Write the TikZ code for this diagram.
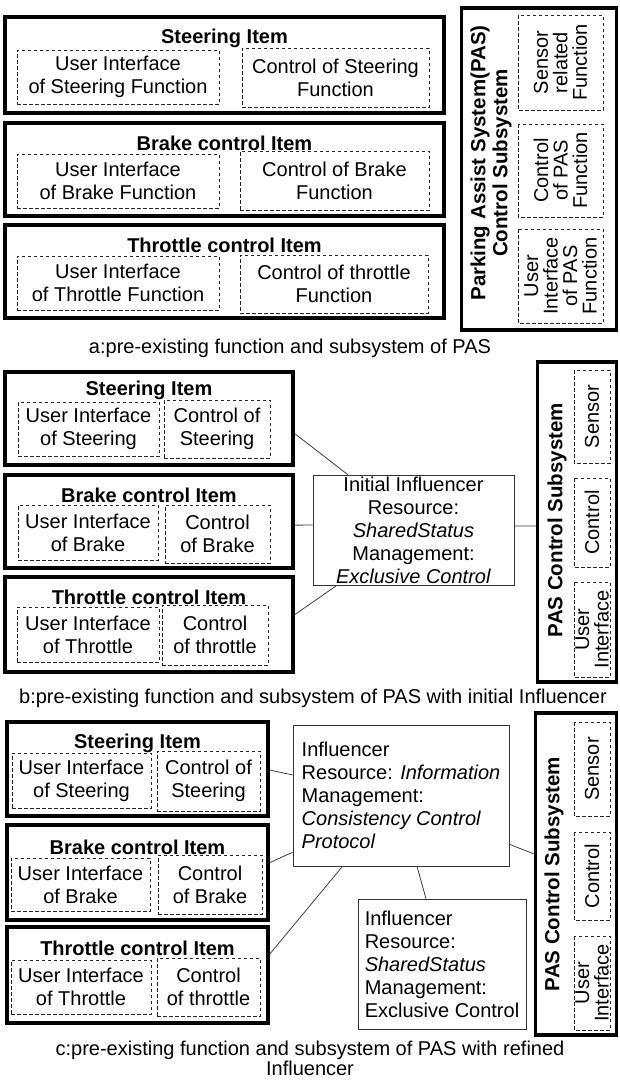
\documentclass[tikz,border=0pt]{standalone}
\usepackage{fontspec}
\setmainfont{Liberation Sans}
\usetikzlibrary{calc}
\newcommand\fs{\fontsize{20}{23}\selectfont}
\newcommand\fsr{\fontsize{20}{19.5}\selectfont}
\tikzset{
  itembox/.style={draw=black, line width=3.4pt, inner sep=0pt},
  dbox/.style={draw=black!85, line width=0.8pt, dash pattern=on 3.5pt off 2.5pt, inner sep=0pt, font=\fs, align=center},
  rbox/.style={dbox, rotate=90, font=\fsr},
  ttl/.style={font=\fs\bfseries, inner sep=0pt},
  rttl/.style={font=\fontsize{20.5}{22}\selectfont\bfseries, rotate=90, align=center, inner sep=0pt},
  infl/.style={draw=black!80, line width=0.9pt, inner sep=0pt, font=\fs},
  conn/.style={draw=black!75, line width=0.8pt},
  captxt/.style={font=\fs, align=center, inner sep=0pt},
}
\begin{document}
\begin{tikzpicture}[x=1pt,y=-1pt]
\useasboundingbox (0,0) rectangle (619,1082);
% ---------------- a ----------------
\node[itembox, minimum width=439pt, minimum height=96pt] (sA) at (224.5,65) {};
\node[ttl] (sAt) at (224.5,38) {Steering Item};
\node[dbox, minimum width=202pt, minimum height=54pt] (sAu) at (118,77) {User Interface\\of Steering Function};
\node[dbox, minimum width=187pt, minimum height=59pt] (sAc) at (335.5,77.5) {Control of Steering\\Function};
\node[itembox, minimum width=439pt, minimum height=93pt] (bA) at (224.5,169.5) {};
\node[ttl] (bAt) at (224.5,143) {Brake control Item};
\node[dbox, minimum width=202pt, minimum height=54pt] (bAu) at (118,181) {User Interface\\of Brake Function};
\node[dbox, minimum width=189pt, minimum height=59pt] (bAc) at (334.5,180.5) {Control of Brake\\Function};
\node[itembox, minimum width=439pt, minimum height=93pt] (tA) at (224.5,271.5) {};
\node[ttl] (tAt) at (224.5,245) {Throttle control Item};
\node[dbox, minimum width=202pt, minimum height=54pt] (tAu) at (118,283) {User Interface\\of Throttle Function};
\node[dbox, minimum width=188pt, minimum height=58pt] (tAc) at (334,284) {Control of throttle\\Function};
\node[itembox, minimum width=155pt, minimum height=322pt] (pA) at (539,169) {};
\node[rttl] (pAt) at (491,163) {Parking Assist System(PAS)\\Control Subsystem};
\node[rbox, minimum width=95pt, minimum height=85pt] (pAs) at (560.5,62.5) {Sensor\\related\\Function};
\node[rbox, minimum width=93pt, minimum height=85pt] (pAc) at (560.5,170.5) {Control\\of PAS\\Function};
\node[rbox, minimum width=94pt, minimum height=85pt] (pAu) at (560.5,276) {User\\Interface\\of PAS\\Function};
\node[captxt] (capA) at (290,348) {a:pre-existing function and subsystem of PAS};
% ---------------- b ----------------
\node[itembox, minimum width=288pt, minimum height=93pt] (sB) at (149,418.5) {};
\node[ttl] (sBt) at (149,390) {Steering Item};
\node[dbox, minimum width=141pt, minimum height=54pt] (sBu) at (88.5,429) {User Interface\\of Steering};
\node[dbox, minimum width=106pt, minimum height=58pt] (sBc) at (217,429) {Control of\\Steering};
\node[itembox, minimum width=288pt, minimum height=93pt] (bB) at (149,521.5) {};
\node[ttl] (bBt) at (149,495) {Brake control Item};
\node[dbox, minimum width=140pt, minimum height=55pt] (bBu) at (88,532.5) {User Interface\\of Brake};
\node[dbox, minimum width=105pt, minimum height=58pt] (bBc) at (217.5,534) {Control\\of Brake};
\node[itembox, minimum width=288pt, minimum height=95pt] (tB) at (149,624.5) {};
\node[ttl] (tBt) at (149,597) {Throttle control Item};
\node[dbox, minimum width=142pt, minimum height=55pt] (tBu) at (88,634.5) {User Interface\\of Throttle};
\node[dbox, minimum width=106pt, minimum height=60pt] (tBc) at (215,635) {Control\\of throttle};
\node[infl, minimum width=201pt, minimum height=110pt, align=center] (iB) at (413.5,530)
  {Initial Influencer\\Resource:\\\textit{SharedStatus}\\Management:\\\textit{Exclusive Control}};
\node[itembox, minimum width=79pt, minimum height=320pt] (pB) at (577,522) {};
\node[rttl] (pBt) at (557,520) {PAS Control Subsystem};
\node[rbox, minimum width=93pt, minimum height=36pt] (pBs) at (592,416.5) {Sensor};
\node[rbox, minimum width=89pt, minimum height=36pt] (pBc) at (592,522.5) {Control};
\node[rbox, minimum width=95pt, minimum height=36pt] (pBu) at (592,629.5) {User\\Interface};
\draw[conn] ($(sB.north east)!0.656!(sB.south east)$) -- ($(iB.north west)!0.174!(iB.north east)$);
\draw[conn] ($(bB.north east)!0.538!(bB.south east)$) -- ($(iB.north west)!0.455!(iB.south west)$);
\draw[conn] ($(tB.north east)!0.4!(tB.south east)$) -- ($(iB.south west)!0.12!(iB.south east)$);
\draw[conn] ($(iB.north east)!0.464!(iB.south east)$) -- ($(pB.north west)!0.5125!(pB.south west)$);
\node[captxt] (capB) at (313,698) {b:pre-existing function and subsystem of PAS with initial Influencer};
% ---------------- c ----------------
\node[itembox, minimum width=261pt, minimum height=94pt] (sC) at (137.5,769) {};
\node[ttl] (sCt) at (137.5,743) {Steering Item};
\node[dbox, minimum width=139pt, minimum height=55pt] (sCu) at (81.5,780.5) {User Interface\\of Steering};
\node[dbox, minimum width=103pt, minimum height=60pt] (sCc) at (208.5,781) {Control of\\Steering};
\node[itembox, minimum width=261pt, minimum height=95pt] (bC) at (137.5,872.5) {};
\node[ttl] (bCt) at (137.5,847) {Brake control Item};
\node[dbox, minimum width=139pt, minimum height=53pt] (bCu) at (80.5,884.5) {User Interface\\of Brake};
\node[dbox, minimum width=104pt, minimum height=59pt] (bCc) at (210,884.5) {Control\\of Brake};
\node[itembox, minimum width=261pt, minimum height=96pt] (tC) at (137.5,975) {};
\node[ttl] (tCt) at (137.5,948) {Throttle control Item};
\node[dbox, minimum width=140pt, minimum height=54pt] (tCu) at (81,987) {User Interface\\of Throttle};
\node[dbox, minimum width=103pt, minimum height=58pt] (tCc) at (208.5,987) {Control\\of throttle};
\node[infl, minimum width=216pt, minimum height=141pt, align=left] (iC1) at (401,795.5)
  {Influencer\\Resource: \textit{Information}\\Management:\\\textit{Consistency Control}\\\textit{Protocol}};
\node[infl, minimum width=168pt, minimum height=130pt, align=left] (iC2) at (442,964)
  {Influencer\\Resource:\\\textit{SharedStatus}\\Management:\\Exclusive Control};
\node[itembox, minimum width=81pt, minimum height=322pt] (pC) at (576,874) {};
\node[rttl] (pCt) at (554,874) {PAS Control Subsystem};
\node[rbox, minimum width=94pt, minimum height=36pt] (pCs) at (592,769) {Sensor};
\node[rbox, minimum width=88pt, minimum height=36pt] (pCc) at (592,876) {Control};
\node[rbox, minimum width=94pt, minimum height=36pt] (pCu) at (592,983) {User\\Interface};
\draw[conn] ($(sC.north east)!0.51!(sC.south east)$) -- ($(iC1.north west)!0.355!(iC1.south west)$);
\draw[conn] ($(bC.north east)!0.4!(bC.south east)$) -- ($(iC1.north west)!0.9!(iC1.south west)$);
\draw[conn] ($(tC.north east)!0.29!(tC.south east)$) -- ($(iC1.south west)!0.23!(iC1.south east)$);
\draw[conn] ($(iC1.south west)!0.574!(iC1.south east)$) -- ($(iC2.north west)!0.405!(iC2.north east)$);
\draw[conn] ($(iC1.north east)!0.844!(iC1.south east)$) -- ($(pC.north west)!0.438!(pC.south west)$);
\node[captxt, font=\fontsize{20}{20}\selectfont] (capC) at (310,1058) {c:pre-existing function and subsystem of PAS with refined\\Influencer};
\end{tikzpicture}
\end{document}
